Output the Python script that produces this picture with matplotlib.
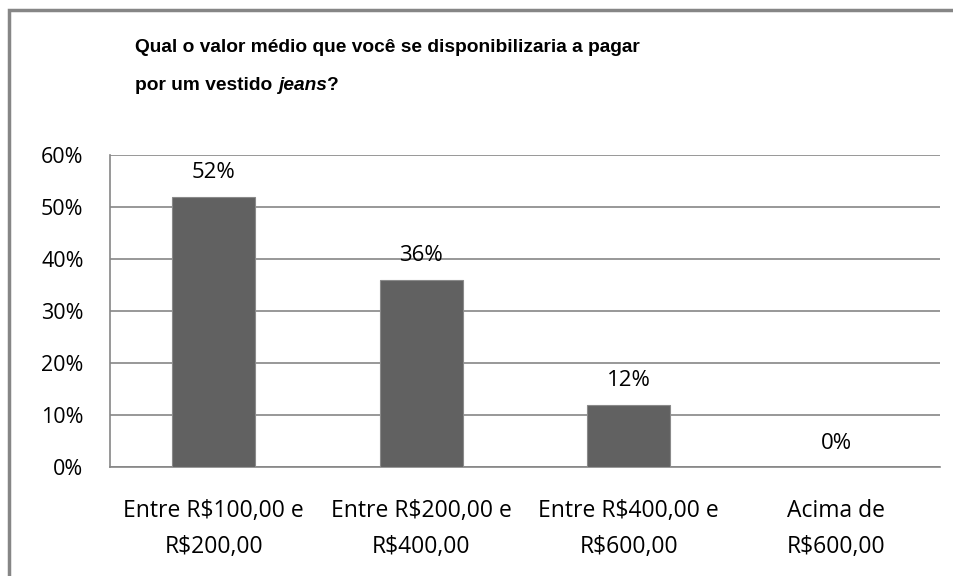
import matplotlib
matplotlib.use("Agg")
import matplotlib.pyplot as plt
from matplotlib.patches import Rectangle
from matplotlib import font_manager
import numpy as np

# dados
categorias = ["Entre R$100,00 e\nR$200,00", "Entre R$200,00 e\nR$400,00",
              "Entre R$400,00 e\nR$600,00", "Acima de\nR$600,00"]
valores = [0.52, 0.36, 0.12, 0.0]
rotulos = ["52%", "36%", "12%", "0%"]
ticks_y = [0, 0.1, 0.2, 0.3, 0.4, 0.5, 0.6]

fonte = ["Open Sans", "DejaVu Sans"]
cinza = "#868686"

nomes = {f.name for f in font_manager.fontManager.ttflist}
fonte_titulo = "Liberation Sans Narrow" if "Liberation Sans Narrow" in nomes else "Liberation Sans"
tam_titulo = 16 if fonte_titulo == "Liberation Sans Narrow" else 13.8

fig = plt.figure(figsize=(9.54, 5.76), dpi=100)

# moldura externa do gráfico
fig.patches.append(Rectangle((9 / 954, -0.1), 1.2, 1 - 10 / 576 + 0.1,
                             transform=fig.transFigure, fill=False,
                             edgecolor=cinza, linewidth=2.5))

ax = fig.add_axes([110 / 954, 1 - 467 / 576, 830 / 954, 312 / 576])
x = np.arange(len(categorias))
ax.bar(x, valores, width=0.4, color="#616161", edgecolor="#8a8a8a", linewidth=0.8, zorder=3)

for xi, v, r in zip(x, valores, rotulos):
    ax.text(xi, v + 0.046, r, ha="center", va="center", fontsize=16, family=fonte)

ax.set_xlim(-0.5, len(categorias) - 0.5)
ax.set_ylim(0, 0.6)
ax.set_yticks(ticks_y)
ax.set_yticklabels([f"{int(round(t * 100))}%" for t in ticks_y], fontsize=15.5, family=fonte)
ax.set_xticks(x)
ax.set_xticklabels(categorias, fontsize=16.5, family=fonte, linespacing=1.65)
ax.tick_params(axis="both", length=0)
ax.tick_params(axis="y", pad=19)
ax.tick_params(axis="x", pad=23)

ax.grid(axis="y", color=cinza, linewidth=1.2, zorder=0)
for s in ["top", "right"]:
    ax.spines[s].set_visible(False)
ax.spines["left"].set_color(cinza)
ax.spines["bottom"].set_color(cinza)
ax.spines["left"].set_linewidth(1.2)
ax.spines["bottom"].set_linewidth(1.2)

# título, com "jeans" em itálico
kw = dict(fontsize=tam_titulo, fontweight="bold", family=fonte_titulo, va="center")
x0 = 135 / 954
fig.text(x0, 1 - 48 / 576, "Qual o valor médio que você se disponibilizaria a pagar", **kw)
fig.canvas.draw()
r = fig.canvas.get_renderer()
t1 = fig.text(x0, 1 - 85 / 576, "por um vestido ", **kw)
w1 = t1.get_window_extent(r).width / fig.bbox.width
t2 = fig.text(x0 + w1, 1 - 85 / 576, "jeans", style="italic", **kw)
w2 = t2.get_window_extent(r).width / fig.bbox.width
fig.text(x0 + w1 + w2, 1 - 85 / 576, "?", **kw)

fig.savefig("out.png", dpi=100)
